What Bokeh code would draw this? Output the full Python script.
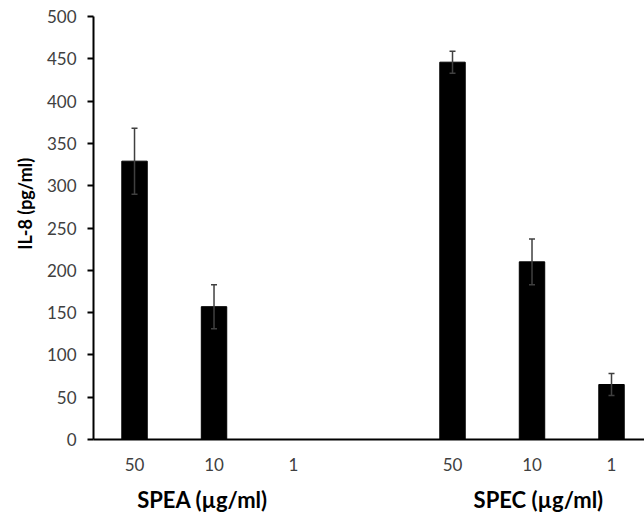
import numpy as np
from bokeh.plotting import figure
from bokeh.models import (ColumnDataSource, Range1d, FixedTicker, Whisker, TeeHead, LinearAxis)
from bokeh.embed import file_html
from bokeh.resources import INLINE

# Data
positions = [0, 1, 2, 4, 5, 6]
dose_labels = ["50", "10", "1", "50", "10", "1"]
il8_values = [329, 157, 0, 446, 210, 65]
il8_errors = [39, 26, 0, 13, 27, 13]
group_names = ["SPEA (µg/ml)", "SPEC (µg/ml)"]
group_label_x = [0.855, 5.08]
y_ticks = [0, 50, 100, 150, 200, 250, 300, 350, 400, 450, 500]
y_title = "IL-8 (pg/ml)"
y_title_pos = 333

FONT = "Lato"

src = ColumnDataSource(dict(x=positions, top=il8_values))
err_src = ColumnDataSource(dict(
    x=[p for p, e in zip(positions, il8_errors) if e > 0],
    upper=[v + e for v, e in zip(il8_values, il8_errors) if e > 0],
    lower=[v - e for v, e in zip(il8_values, il8_errors) if e > 0],
))

p = figure(width=644, height=517, output_backend="svg", toolbar_location=None,
           x_range=Range1d(-0.516, 6.415), y_range=Range1d(0, 500),
           min_border_left=93, min_border_right=0, min_border_top=16, min_border_bottom=78)

p.vbar(x="x", top="top", width=0.32, source=src, fill_color="black", line_color="black")

wh = Whisker(base="x", upper="upper", lower="lower", source=err_src,
             line_color="#404040", line_width=1.5, level="overlay",
             upper_head=TeeHead(size=6, line_color="#404040", line_width=1.5),
             lower_head=TeeHead(size=6, line_color="#404040", line_width=1.5))
p.add_layout(wh)

p.xgrid.grid_line_color = None
p.ygrid.grid_line_color = None
p.outline_line_color = None
p.background_fill_color = "white"
p.border_fill_color = "white"

# x axis (doses)
p.xaxis.ticker = FixedTicker(ticks=positions)
p.xaxis.major_label_overrides = {pos: lab for pos, lab in zip(positions, dose_labels)}
p.xaxis.major_tick_out = 0
p.xaxis.major_tick_in = 0
p.xaxis.minor_tick_line_color = None
p.xaxis.axis_line_width = 2
p.xaxis.axis_line_color = "black"
p.xaxis.major_label_text_font = FONT
p.xaxis.major_label_text_font_size = "17px"
p.xaxis.major_label_text_color = "#404040"
p.xaxis.major_label_standoff = 18

# group axis below
gax = LinearAxis(ticker=FixedTicker(ticks=group_label_x),
                 major_label_overrides={gx: gn for gx, gn in zip(group_label_x, group_names)},
                 axis_line_color=None, major_tick_line_color=None, minor_tick_line_color=None,
                 major_tick_out=0, major_tick_in=0,
                 major_label_text_font=FONT, major_label_text_font_style="bold",
                 major_label_text_font_size="22px", major_label_text_color="black",
                 major_label_standoff=12)
p.add_layout(gax, "below")

# y axis
p.yaxis.ticker = FixedTicker(ticks=y_ticks)
p.yaxis.major_tick_out = 6
p.yaxis.major_tick_in = 0
p.yaxis.major_tick_line_width = 2
p.yaxis.major_tick_line_color = "black"
p.yaxis.minor_tick_line_color = None
p.yaxis.axis_line_width = 2
p.yaxis.axis_line_color = "black"
p.yaxis.major_label_text_font = FONT
p.yaxis.major_label_text_font_size = "17px"
p.yaxis.major_label_text_color = "#404040"
p.yaxis.major_label_standoff = 11

# y title as a label-only axis
tax = LinearAxis(ticker=FixedTicker(ticks=[y_title_pos]),
                 major_label_overrides={y_title_pos: y_title},
                 major_label_orientation=np.pi / 2,
                 axis_line_color=None, major_tick_line_color=None, minor_tick_line_color=None,
                 major_tick_out=0, major_tick_in=0,
                 major_label_text_font=FONT, major_label_text_font_style="bold",
                 major_label_text_font_size="18px", major_label_text_color="black",
                 major_label_standoff=18)
p.add_layout(tax, "left")

open("out.html", "w").write(file_html(p, INLINE))
